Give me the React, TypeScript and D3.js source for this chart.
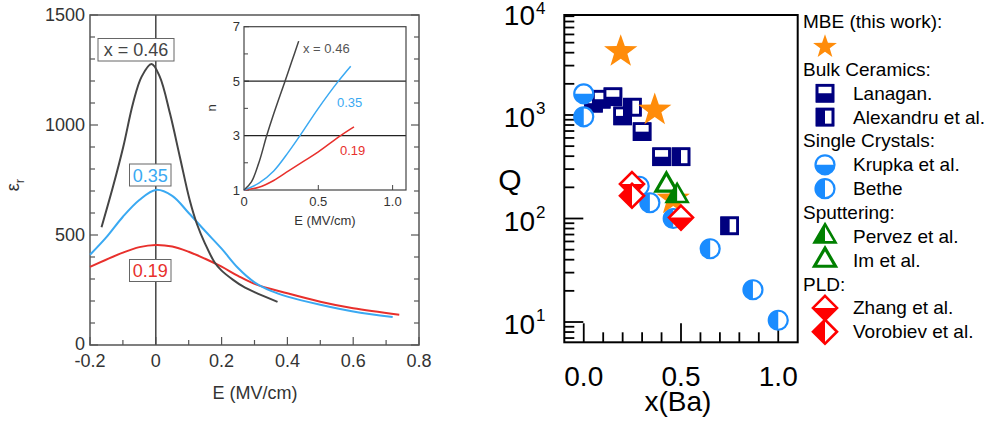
import React from "react";
import * as d3 from "d3";

// ---------- Left panel data: permittivity vs field ----------
const epsX046: [number, number][] = [
  [-0.165, 535], [-0.13, 720], [-0.099, 900], [-0.069, 1100], [-0.043, 1220], [-0.013, 1277],
  [0.012, 1220], [0.043, 1053], [0.073, 856], [0.103, 659], [0.125, 550], [0.15, 460],
  [0.179, 375], [0.2, 338], [0.235, 296], [0.265, 266], [0.3, 240], [0.37, 196],
];
const epsX035: [number, number][] = [
  [-0.2, 410], [-0.15, 490], [-0.1, 583], [-0.05, 659], [0, 705], [0.05, 678], [0.1, 600],
  [0.15, 518], [0.2, 438], [0.25, 350], [0.3, 285], [0.35, 246], [0.4, 220], [0.5, 183],
  [0.6, 152], [0.72, 127],
];
const epsX019: [number, number][] = [
  [-0.2, 355], [-0.1, 420], [-0.05, 445], [0, 455], [0.05, 448], [0.1, 424], [0.15, 392],
  [0.2, 356], [0.25, 314], [0.3, 278], [0.4, 235], [0.5, 197], [0.6, 167], [0.74, 138],
];
// inset: tunability n vs field
const nX046: [number, number][] = [
  [0, 1], [0.05, 1.3], [0.1, 2.0], [0.153, 3], [0.2, 3.8], [0.276, 5], [0.32, 5.7], [0.368, 6.47],
];
const nX035: [number, number][] = [
  [0, 1], [0.1, 1.25], [0.2, 1.7], [0.3, 2.4], [0.377, 3], [0.5, 4], [0.635, 5], [0.718, 5.55],
];
const nX019: [number, number][] = [
  [0, 1], [0.1, 1.1], [0.2, 1.35], [0.3, 1.7], [0.4, 2.05], [0.5, 2.4], [0.65, 3], [0.74, 3.32],
];
const mainXTicks = [-0.2, 0, 0.2, 0.4, 0.6, 0.8];
const mainYTicks = [0, 500, 1000, 1500];
const insetXTicks = [0, 0.5, 1.0];
const insetYTicks = [1, 3, 5, 7];

// ---------- Right panel data: Q vs x(Ba) ----------
const mbeX = [0.19, 0.365, 0.46];
const mbeQ = [4250, 1160, 160];
const lanaganX = [0.05, 0.09, 0.15, 0.2, 0.3, 0.4];
const lanaganQ = [1300, 1420, 1500, 980, 690, 395];
const alexandruX = [0.25, 0.5, 0.75];
const alexandruQ = [1190, 395, 85];
const krupkaX = [0.0];
const krupkaQ = [1600];
const betheX = [0.0, 0.285, 0.34, 0.46, 0.65, 0.87, 1.0];
const betheQ = [960, 205, 142, 100, 51, 20.5, 10.4];
const pervezX = [0.48];
const pervezQ = [165];
const imX = [0.425];
const imQ = [210];
const zhangX = [0.248, 0.5];
const zhangQ = [215, 102];
const vorobievX = [0.248];
const vorobievQ = [166];
const rightXTicks = [0, 0.5, 1.0];
const rightYExps = [1, 2, 3, 4];

const legendRows: { kind: "head" | "item"; text: string; marker?: string }[] = [
  { kind: "head", text: "MBE (this work):" },
  { kind: "item", text: "", marker: "star" },
  { kind: "head", text: "Bulk Ceramics:" },
  { kind: "item", text: "Lanagan.", marker: "lanagan" },
  { kind: "item", text: "Alexandru et al.", marker: "alexandru" },
  { kind: "head", text: "Single Crystals:" },
  { kind: "item", text: "Krupka et al.", marker: "krupka" },
  { kind: "item", text: "Bethe", marker: "bethe" },
  { kind: "head", text: "Sputtering:" },
  { kind: "item", text: "Pervez et al.", marker: "pervez" },
  { kind: "item", text: "Im et al.", marker: "im" },
  { kind: "head", text: "PLD:" },
  { kind: "item", text: "Zhang et al.", marker: "zhang" },
  { kind: "item", text: "Vorobiev et al.", marker: "vorobiev" },
];

const FONT = "'Liberation Sans', Arial, sans-serif";
const C_BLACK = "#454545";
const C_BLUE = "#3aa9f2";
const C_RED = "#e8302c";
const NAVY = "#00007f";
const BLUE = "#1a8cff";
const GREEN = "#008000";
const RED = "#ff0000";
const ORANGE = "#ff8c0a";

function starPath(cx: number, cy: number, R: number) {
  const r = R * 0.4;
  const pts: string[] = [];
  for (let i = 0; i < 10; i++) {
    const a = -Math.PI / 2 + (i * Math.PI) / 5;
    const rr = i % 2 === 0 ? R : r;
    pts.push(`${cx + rr * Math.cos(a)},${cy + rr * Math.sin(a)}`);
  }
  return "M" + pts.join("L") + "Z";
}

function Marker({ type, x, y, legend }: { type: string; x: number; y: number; legend?: boolean }) {
  if (type === "star") {
    const R = legend ? 12.5 : 17.5;
    return <path d={starPath(x, y + R * 0.1, R)} fill={ORANGE} />;
  }
  if (type === "lanagan" || type === "alexandru") {
    const s = 16;
    const h = s / 2;
    return (
      <g>
        <rect x={x - h} y={y - h} width={s} height={s} fill="#fff" stroke={NAVY} strokeWidth={2.6} />
        {type === "lanagan" ? (
          <rect x={x - h} y={y} width={s} height={h} fill={NAVY} />
        ) : (
          <rect x={x - h} y={y - h} width={h} height={s} fill={NAVY} />
        )}
        <rect x={x - h} y={y - h} width={s} height={s} fill="none" stroke={NAVY} strokeWidth={2.6} />
      </g>
    );
  }
  if (type === "krupka" || type === "bethe") {
    const r = 9.5;
    const d =
      type === "krupka"
        ? `M${x - r},${y}A${r},${r} 0 0 0 ${x + r},${y}Z`
        : `M${x},${y - r}A${r},${r} 0 0 0 ${x},${y + r}Z`;
    return (
      <g>
        <circle cx={x} cy={y} r={r} fill="#fff" />
        <path d={d} fill={BLUE} />
        <circle cx={x} cy={y} r={r} fill="none" stroke={BLUE} strokeWidth={2.2} />
      </g>
    );
  }
  if (type === "pervez" || type === "im") {
    const s = 21;
    const hgt = s * 0.866;
    const ax = x, ay = y - (hgt * 2) / 3;
    const by = y + hgt / 3;
    const tri = `M${ax},${ay}L${x + s / 2},${by}L${x - s / 2},${by}Z`;
    return (
      <g>
        <path d={tri} fill="#fff" />
        {type === "pervez" && <path d={`M${ax},${ay}L${x},${by}L${x - s / 2},${by}Z`} fill={GREEN} />}
        <path d={tri} fill="none" stroke={GREEN} strokeWidth={type === "im" ? 3.2 : 2.6} strokeLinejoin="miter" />
      </g>
    );
  }
  if (type === "zhang" || type === "vorobiev") {
    const dd = 12;
    const dia = `M${x},${y - dd}L${x + dd},${y}L${x},${y + dd}L${x - dd},${y}Z`;
    const half =
      type === "zhang"
        ? `M${x - dd},${y}L${x + dd},${y}L${x},${y + dd}Z`
        : `M${x},${y - dd}L${x - dd},${y}L${x},${y + dd}Z`;
    return (
      <g>
        <path d={dia} fill="#fff" />
        <path d={half} fill={RED} />
        <path d={dia} fill="none" stroke={RED} strokeWidth={2.6} />
      </g>
    );
  }
  return null;
}

export default function App() {
  // left main
  const mx = d3.scaleLinear().domain([-0.2, 0.8]).range([90, 419]);
  const my = d3.scaleLinear().domain([0, 1500]).range([345, 15]);
  const mline = d3
    .line<[number, number]>()
    .x((d) => mx(d[0]))
    .y((d) => my(d[1]))
    .curve(d3.curveCatmullRom.alpha(0.5));
  // inset
  const ix = d3.scaleLinear().domain([0, 1.09]).range([244, 406]);
  const iy = d3.scaleLinear().domain([1, 7]).range([190, 26.7]);
  const iline = d3
    .line<[number, number]>()
    .x((d) => ix(d[0]))
    .y((d) => iy(d[1]))
    .curve(d3.curveCatmullRom.alpha(0.5));
  // right
  const rx = d3.scaleLinear().domain([-0.1, 1.1]).range([564.3, 797.7]);
  const ry = d3.scaleLog().domain([Math.pow(10, 0.804), Math.pow(10, 3.966)]).range([342.3, 15]);

  const mainMinorX = d3.range(-2, 9).map((i) => i / 10);
  const mainMinorY = d3.range(0, 16).map((i) => i * 100);
  const rMinorX = d3.range(0, 11).map((i) => i / 10);
  const rMinorY: number[] = [];
  for (let e = 0; e <= 3; e++) for (let k = 2; k <= 9; k++) rMinorY.push(k * Math.pow(10, e));
  const [yLo, yHi] = ry.domain();

  const series = (xs: number[], qs: number[], type: string) =>
    xs.map((v, i) => <Marker key={type + i} type={type} x={rx(v)} y={ry(qs[i])} />);

  const tickStroke = "#555";
  return (
    <svg
      width={992}
      height={430}
      style={{ position: "fixed", left: 0, top: 0, background: "#fff" }}
      fontFamily={FONT}
    >
      <rect x={0} y={0} width={992} height={430} fill="#fff" />
      {/* ===== Left panel ===== */}
      <g>
        {mainMinorX.map((v, i) => {
          const major = Math.round(v * 10) % 2 === 0;
          return (
            <line key={"mxt" + i} x1={mx(v)} x2={mx(v)} y1={345} y2={345 - (major ? 8 : 5)} stroke={tickStroke} strokeWidth={1.2} />
          );
        })}
        {mainMinorY.map((v, i) => {
          const major = v % 500 === 0;
          const L = major ? 8 : 5;
          return (
            <g key={"myt" + i}>
              <line x1={90} x2={90 + L} y1={my(v)} y2={my(v)} stroke={tickStroke} strokeWidth={1.2} />
              <line x1={419} x2={419 - L} y1={my(v)} y2={my(v)} stroke={tickStroke} strokeWidth={1.2} />
            </g>
          );
        })}
        <line x1={mx(0)} x2={mx(0)} y1={15} y2={345} stroke="#444" strokeWidth={1.5} />
        <rect x={90} y={15} width={329} height={330} fill="none" stroke="#555" strokeWidth={1.5} />
        {mainXTicks.map((v) => (
          <text key={"mxl" + v} x={mx(v)} y={367} textAnchor="middle" fontSize={18} fill="#333">
            {v === 0 ? "0" : String(v)}
          </text>
        ))}
        {mainYTicks.map((v) => (
          <text key={"myl" + v} x={85} y={my(v) + (v === 0 ? 4.5 : 5.5)} textAnchor="end" fontSize={18} fill="#333">
            {v}
          </text>
        ))}
        <text x={255} y={399} textAnchor="middle" fontSize={18} fill="#333">E (MV/cm)</text>
        <text transform="translate(19,185) rotate(-90)" textAnchor="middle" fontSize={18} fill="#333">
          ε<tspan fontSize={13} dy={5}>r</tspan>
        </text>
        <path d={mline(epsX019) || ""} fill="none" stroke={C_RED} strokeWidth={2} />
        <path d={mline(epsX035) || ""} fill="none" stroke={C_BLUE} strokeWidth={2} />
        <path d={mline(epsX046) || ""} fill="none" stroke={C_BLACK} strokeWidth={2} />
        <rect x={98} y={38.5} width={76} height={22.5} fill="#fff" stroke="#666" strokeWidth={1} />
        <text x={136} y={56} textAnchor="middle" fontSize={18} fill="#444">x = 0.46</text>
        <rect x={129.5} y={164} width={41.5} height={22} fill="#fff" stroke="#666" strokeWidth={1} />
        <text x={150.2} y={181.5} textAnchor="middle" fontSize={18} fill={C_BLUE}>0.35</text>
        <rect x={129.5} y={259.5} width={41.5} height={22} fill="#fff" stroke="#666" strokeWidth={1} />
        <text x={150.2} y={277} textAnchor="middle" fontSize={18} fill={C_RED}>0.19</text>

        {/* inset */}
        <rect x={244} y={26.7} width={162} height={163.3} fill="#fff" />
        {d3.range(1, 8).map((v) => (
          <line key={"iyt" + v} x1={244} x2={244 + (v % 2 === 1 ? 5 : 4)} y1={iy(v)} y2={iy(v)} stroke="#444" strokeWidth={1} />
        ))}
        {[0.5, 1.0].map((v) => (
          <line key={"ixt" + v} x1={ix(v)} x2={ix(v)} y1={190} y2={185} stroke="#444" strokeWidth={1} />
        ))}
        <line x1={244} x2={406} y1={iy(3)} y2={iy(3)} stroke="#222" strokeWidth={1.2} />
        <line x1={244} x2={406} y1={iy(5)} y2={iy(5)} stroke="#222" strokeWidth={1.2} />
        <rect x={244} y={26.7} width={162} height={163.3} fill="none" stroke="#444" strokeWidth={1.2} />
        {insetYTicks.map((v) => (
          <text key={"iyl" + v} x={240} y={iy(v) + 4.5} textAnchor="end" fontSize={13} fill="#333">
            {v}
          </text>
        ))}
        {insetXTicks.map((v) => (
          <text key={"ixl" + v} x={ix(v)} y={206} textAnchor="middle" fontSize={13} fill="#333">
            {v === 0 ? "0" : v.toFixed(1)}
          </text>
        ))}
        <text x={325} y={225} textAnchor="middle" fontSize={13} fill="#333">E (MV/cm)</text>
        <text transform="translate(216,108) rotate(-90)" textAnchor="middle" fontSize={13} fill="#333">n</text>
        <path d={iline(nX019) || ""} fill="none" stroke={C_RED} strokeWidth={1.5} />
        <path d={iline(nX035) || ""} fill="none" stroke={C_BLUE} strokeWidth={1.5} />
        <path d={iline(nX046) || ""} fill="none" stroke={C_BLACK} strokeWidth={1.5} />
        <text x={303} y={52.5} fontSize={13} fill="#555">x = 0.46</text>
        <text x={337} y={107} fontSize={13} fill={C_BLUE}>0.35</text>
        <text x={340} y={155} fontSize={13} fill={C_RED}>0.19</text>
      </g>

      {/* ===== Right panel ===== */}
      <g>
        {rMinorX.map((v, i) => {
          const major = i % 5 === 0;
          return (
            <line key={"rxt" + i} x1={rx(v)} x2={rx(v)} y1={342.3} y2={342.3 - (major ? 19 : 10)} stroke="#000" strokeWidth={1.8} />
          );
        })}
        {rMinorY
          .filter((v) => v > yLo && v < yHi)
          .map((v, i) => (
            <line key={"rym" + i} x1={564.3} x2={564.3 + 10} y1={ry(v)} y2={ry(v)} stroke="#000" strokeWidth={1.8} />
          ))}
        {[10, 100, 1000].map((v) => (
          <line key={"ryM" + v} x1={564.3} x2={564.3 + 19} y1={ry(v)} y2={ry(v)} stroke="#000" strokeWidth={1.8} />
        ))}
        <rect x={564.3} y={15} width={233.4} height={327.3} fill="none" stroke="#000" strokeWidth={2} />
        {rightXTicks.map((v) => (
          <text key={"rxl" + v} x={rx(v)} y={386} textAnchor="middle" fontSize={28} fill="#000">
            {v.toFixed(1)}
          </text>
        ))}
        {rightYExps.map((e) => {
          const yy = ry(Math.pow(10, e));
          return (
            <g key={"ryl" + e}>
              <text x={535} y={Math.max(yy + 12, 25)} textAnchor="end" fontSize={28} fill="#000">10</text>
              <text x={536} y={Math.max(yy - 1, 14)} fontSize={17} fill="#000">{e}</text>
            </g>
          );
        })}
        <text x={678} y={411} textAnchor="middle" fontSize={28} fill="#000">x(Ba)</text>
        <text x={510} y={190} textAnchor="middle" fontSize={30} fill="#000">Q</text>

        {series(lanaganX, lanaganQ, "lanagan")}
        {series(alexandruX, alexandruQ, "alexandru")}
        {series(krupkaX, krupkaQ, "krupka")}
        {series(betheX, betheQ, "bethe")}
        {series(mbeX, mbeQ, "star")}
        {series(imX, imQ, "im")}
        {series(pervezX, pervezQ, "pervez")}
        {series(zhangX, zhangQ, "zhang")}
        {series(vorobievX, vorobievQ, "vorobiev")}

        {legendRows.map((r, i) => {
          const yy = 21.7 + i * 23.85;
          if (r.kind === "head")
            return (
              <text key={"lg" + i} x={803} y={yy + 6.5} fontSize={19} fill="#000">
                {r.text}
              </text>
            );
          return (
            <g key={"lg" + i}>
              <Marker type={r.marker!} x={825} y={yy} legend />
              {r.text && (
                <text x={853} y={yy + 6.5} fontSize={19} fill="#000">
                  {r.text}
                </text>
              )}
            </g>
          );
        })}
      </g>
    </svg>
  );
}
